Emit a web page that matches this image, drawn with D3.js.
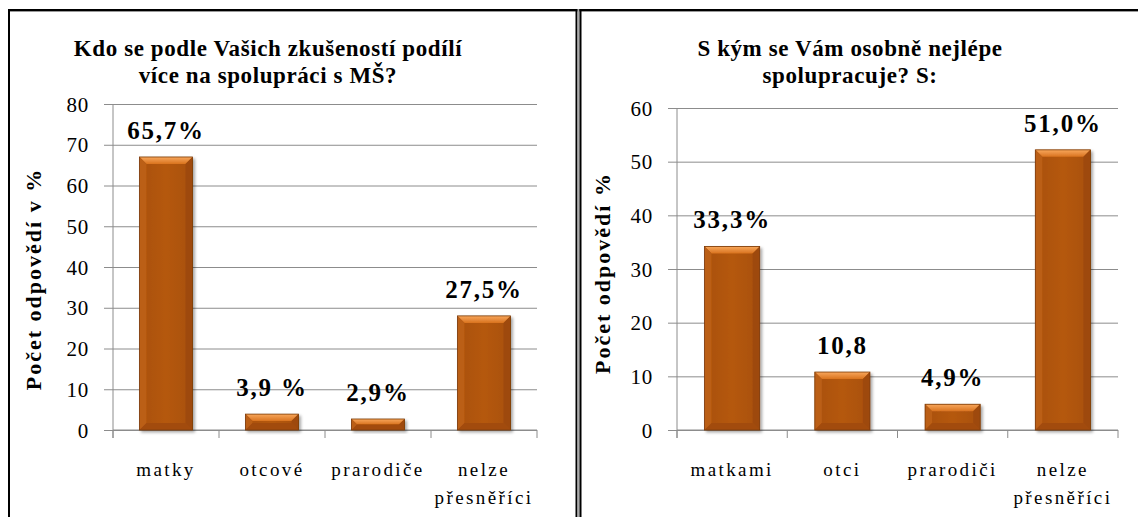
<!DOCTYPE html>
<html>
<head>
<meta charset="utf-8">
<script src="https://cdn.jsdelivr.net/npm/d3@7"></script>
</head>
<body style="margin:0">
<svg id="vis" width="1138" height="517"></svg>
<script>
// left chart data
var leftTitle = ["Kdo se podle Vašich zkušeností podílí", "více na spolupráci s MŠ?"];
var leftYLabel = "Počet odpovědí v %";
var leftCats = [["matky"], ["otcové"], ["prarodiče"], ["nelze", "přesněříci"]];
var leftValues = [67.0, 3.9, 2.7, 28.0];
var leftLabels = ["65,7%", "3,9 %", "2,9%", "27,5%"];
var leftTicks = [0, 10, 20, 30, 40, 50, 60, 70, 80];

// right chart data
var rightTitle = ["S kým se Vám osobně nejlépe", "spolupracuje? S:"];
var rightYLabel = "Počet odpovědí %";
var rightCats = [["matkami"], ["otci"], ["prarodiči"], ["nelze", "přesněříci"]];
var rightValues = [34.2, 10.8, 4.8, 52.2];
var rightLabels = ["33,3%", "10,8", "4,9%", "51,0%"];
var rightTicks = [0, 10, 20, 30, 40, 50, 60];

var FONT = "Liberation Serif";

var svg = d3.select("#vis");
var defs = svg.append("defs");

var shadow = defs.append("filter").attr("id", "shadow")
  .attr("x", "-20%").attr("y", "-20%").attr("width", "150%").attr("height", "150%");
shadow.append("feDropShadow")
  .attr("dx", 2).attr("dy", 2).attr("stdDeviation", 1.8)
  .attr("flood-color", "#000").attr("flood-opacity", 0.35);

var topGrad = defs.append("linearGradient").attr("id", "topBevel")
  .attr("x1", 0).attr("y1", 0).attr("x2", 0).attr("y2", 1);
topGrad.append("stop").attr("offset", "0%").attr("stop-color", "#f8a75c");
topGrad.append("stop").attr("offset", "100%").attr("stop-color", "#d9731f");

var bodyGrad = defs.append("linearGradient").attr("id", "barBody")
  .attr("x1", 0).attr("y1", 0).attr("x2", 1).attr("y2", 0);
bodyGrad.append("stop").attr("offset", "0%").attr("stop-color", "#a94f0c");
bodyGrad.append("stop").attr("offset", "50%").attr("stop-color", "#b5590f");
bodyGrad.append("stop").attr("offset", "100%").attr("stop-color", "#a84f0c");

// panel frame
svg.append("line").attr("x1", 8).attr("x2", 1138).attr("y1", 10).attr("y2", 10)
  .attr("stroke", "#000").attr("stroke-width", 2);
svg.append("line").attr("x1", 8).attr("x2", 1138).attr("y1", 11.5).attr("y2", 11.5)
  .attr("stroke", "#999").attr("stroke-width", 1);
svg.append("line").attr("x1", 9).attr("x2", 9).attr("y1", 9).attr("y2", 517)
  .attr("stroke", "#000").attr("stroke-width", 2);
svg.append("line").attr("x1", 576.5).attr("x2", 576.5).attr("y1", 9).attr("y2", 517)
  .attr("stroke", "#000").attr("stroke-width", 2);
svg.append("line").attr("x1", 578.5).attr("x2", 578.5).attr("y1", 9).attr("y2", 517)
  .attr("stroke", "#aaa").attr("stroke-width", 2);
svg.append("line").attr("x1", 580.5).attr("x2", 580.5).attr("y1", 9).attr("y2", 517)
  .attr("stroke", "#000").attr("stroke-width", 2);

drawChart({
  title: leftTitle, yLabel: leftYLabel, cats: leftCats, values: leftValues,
  labels: leftLabels, ticks: leftTicks,
  x0: 113, x1: 537, yTop: 104, yBottom: 430, titleX: 268, yLabelX: 41, yLabelY: 279
});

drawChart({
  title: rightTitle, yLabel: rightYLabel, cats: rightCats, values: rightValues,
  labels: rightLabels, ticks: rightTicks,
  x0: 677, x1: 1118, yTop: 108, yBottom: 430, titleX: 850, yLabelX: 610, yLabelY: 273
});

function drawChart(c) {
  var g = svg.append("g");

  var x = d3.scaleBand()
    .domain(d3.range(c.cats.length))
    .range([c.x0, c.x1])
    .paddingInner(0.5)
    .paddingOuter(0.25);

  var y = d3.scaleLinear()
    .domain([0, d3.max(c.ticks)])
    .range([c.yBottom, c.yTop]);

  // gridlines + tick labels
  var w = c.x1 - c.x0;
  var yAxis = d3.axisLeft(y).tickValues(c.ticks).tickSize(-(w + 9)).tickPadding(15);
  var ga = g.append("g")
    .attr("transform", translate(c.x0 - 9, 0))
    .call(yAxis);
  ga.select(".domain").remove();
  ga.selectAll(".tick line").attr("stroke", "#8c8c8c");
  ga.selectAll(".tick text")
    .style("font-family", FONT)
    .style("font-size", "21px")
    .style("letter-spacing", "0.8px")
    .attr("fill", "#000")
    .attr("dy", "0.34em");

  // axis lines
  g.append("line").attr("x1", c.x0).attr("x2", c.x0)
    .attr("y1", y(d3.max(c.ticks))).attr("y2", y(0) + 8)
    .attr("stroke", "#8c8c8c");
  g.append("line").attr("x1", c.x0).attr("x2", c.x1)
    .attr("y1", y(0)).attr("y2", y(0)).attr("stroke", "#8c8c8c");

  // category boundary ticks
  var bounds = c.cats.map((d, i) => x(i) - x.bandwidth() / 2).concat([c.x1]);
  g.selectAll("line.xtick").data(bounds).enter().append("line")
    .attr("class", "xtick")
    .attr("x1", d => d).attr("x2", d => d)
    .attr("y1", y(0)).attr("y2", y(0) + 8)
    .attr("stroke", "#8c8c8c");

  // category labels (one text per line)
  c.cats.forEach(function(lines, i) {
    lines.forEach(function(line, k) {
      g.append("text")
        .attr("text-anchor", "middle")
        .attr("x", x(i) + x.bandwidth() / 2)
        .attr("y", 476 + k * 28)
        .style("font-family", FONT)
        .style("font-size", "19px")
        .style("letter-spacing", "2.4px")
        .text(line);
    });
  });

  // bars
  var bars = g.selectAll("g.bar").data(c.values).enter().append("g")
    .attr("class", "bar")
    .attr("filter", "url(#shadow)");

  bars.each(function(v, i) {
    var b = d3.select(this);
    var bx = x(i), bw = x.bandwidth();
    var by = y(v), bh = y(0) - y(v);
    var bv = Math.min(7, bh / 2);
    b.append("rect")
      .attr("x", bx).attr("y", by).attr("width", bw).attr("height", bh)
      .attr("fill", "url(#barBody)");
    // top bevel
    b.append("polygon")
      .attr("points", [[bx, by], [bx + bw, by], [bx + bw - bv, by + bv], [bx + bv, by + bv]].join(" "))
      .attr("fill", "url(#topBevel)");
    // left bevel
    b.append("polygon")
      .attr("points", [[bx, by], [bx + bv, by + bv], [bx + bv, by + bh - bv], [bx, by + bh]].join(" "))
      .attr("fill", "#bb5f17");
    // right bevel
    b.append("polygon")
      .attr("points", [[bx + bw, by], [bx + bw - bv, by + bv], [bx + bw - bv, by + bh - bv], [bx + bw, by + bh]].join(" "))
      .attr("fill", "#9e4a0b");
    // bottom bevel
    b.append("polygon")
      .attr("points", [[bx, by + bh], [bx + bv, by + bh - bv], [bx + bw - bv, by + bh - bv], [bx + bw, by + bh]].join(" "))
      .attr("fill", "#a24c0c");
    b.append("rect")
      .attr("x", bx).attr("y", by).attr("width", bw).attr("height", bh)
      .attr("fill", "none").attr("stroke", "#7c3a07").attr("stroke-width", 0.8);
  });

  // value labels
  g.selectAll("text.val").data(c.labels).enter().append("text")
    .attr("class", "val")
    .attr("text-anchor", "middle")
    .attr("x", (d, i) => x(i) + x.bandwidth() / 2)
    .attr("y", (d, i) => y(c.values[i]) - 18)
    .style("font-family", FONT)
    .style("font-size", "25px")
    .style("font-weight", "bold")
    .style("letter-spacing", "1.8px")
    .text(d => d);

  // title
  g.selectAll("text.title").data(c.title).enter().append("text")
    .attr("class", "title")
    .attr("text-anchor", "middle")
    .attr("x", c.titleX)
    .attr("y", (d, i) => 56 + i * 27)
    .style("font-family", FONT)
    .style("font-size", "23px")
    .style("font-weight", "bold")
    .style("letter-spacing", "0.6px")
    .text(d => d);

  // y axis title
  g.append("text")
    .attr("text-anchor", "middle")
    .attr("transform", translate(c.yLabelX, c.yLabelY) + " rotate(-90)")
    .style("font-family", FONT)
    .style("font-size", "22px")
    .style("font-weight", "bold")
    .style("letter-spacing", "2px")
    .text(c.yLabel);
}

function translate(x, y) {
  return "translate(" + String(x) + "," + String(y) + ")";
}
</script>
</body>
</html>
